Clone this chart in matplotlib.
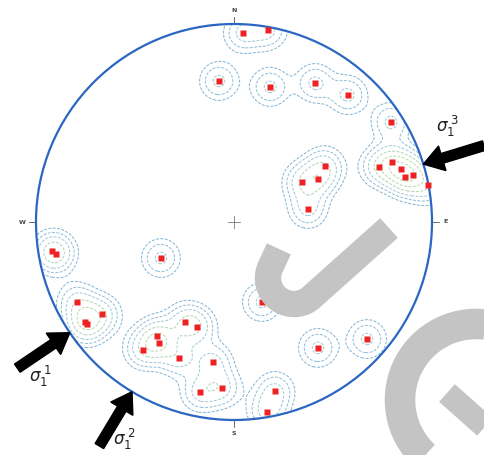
import numpy as np
import matplotlib.pyplot as plt
from matplotlib.patches import Circle, FancyArrow

# poles in net coordinates (unit primitive circle, x = east, y = north)
pole_x = [0.045, 0.172,
          -0.076, 0.182, 0.409, 0.576, 0.793,
          0.732, 0.798, 0.843, 0.864, 0.904, 0.980,
          0.460, 0.424, 0.343, 0.374,
          -0.919, -0.899, -0.369,
          -0.793, -0.667, -0.753, -0.742,
          0.141,
          -0.247, -0.187, -0.389, -0.379, -0.460, -0.278, -0.106, -0.172, -0.061,
          0.207, 0.167, 0.424, 0.672]
pole_y = [0.955, 0.970,
          0.712, 0.682, 0.702, 0.641, 0.505,
          0.278, 0.303, 0.268, 0.227, 0.237, 0.187,
          0.283, 0.217, 0.202, 0.066,
          -0.146, -0.162, -0.182,
          -0.404, -0.465, -0.505, -0.515,
          -0.404,
          -0.505, -0.530, -0.576, -0.611, -0.646, -0.687, -0.707, -0.859, -0.838,
          -0.854, -0.960, -0.636, -0.591]

# principal stress directions (azimuth, degrees clockwise from north)
sigma_labels = [r'$\sigma_1^{\;1}$', r'$\sigma_1^{\;2}$', r'$\sigma_1^{\;3}$']
sigma_az = [236, 211, 73]
label_offset = [(-0.15, -0.22), (-0.04, -0.24), (0.12, 0.19)]

compass = ['N', 'E', 'S', 'W']
compass_az = [0, 90, 180, 270]

R_PX = 198.0
fig = plt.figure(figsize=(4.85, 4.55), dpi=100)
ax = fig.add_axes([0, 0, 1, 1])
ax.set_xlim(-234 / R_PX, 251 / R_PX)
ax.set_ylim(-233 / R_PX, 222 / R_PX)
ax.axis('off')

# density contours (gaussian kernel on the net)
gx, gy = np.meshgrid(np.linspace(-1.05, 1.05, 420), np.linspace(-1.05, 1.05, 420))
px = np.array(pole_x)
py = np.array(pole_y)
s = 0.063
dens = np.zeros_like(gx)
for x0, y0 in zip(px, py):
    dens += np.exp(-((gx - x0) ** 2 + (gy - y0) ** 2) / (2 * s * s))

levels = [0.3, 0.55, 0.9, 1.4, 2.0, 2.7, 3.5]
cols = ['#7fb2d6', '#8cbcd8', '#9ec8d6', '#b0d4b4', '#b8d9a4', '#b8d9a4', '#b8d9a4']
clip = Circle((0, 0), 1.0, transform=ax.transData)
cs = ax.contour(gx, gy, dens, levels=levels, colors=cols, linewidths=0.7,
                linestyles=[(0, (3, 1.5))])
cs.set_clip_path(clip)

# primitive circle
ax.add_patch(Circle((0, 0), 1.0, fill=False, ec='#2a66c2', lw=1.6, zorder=4))

# centre cross
ax.plot([-0.03, 0.03], [0, 0], color='#777777', lw=0.6)
ax.plot([0, 0], [-0.03, 0.03], color='#777777', lw=0.6)

# compass ticks and letters
for lab, az in zip(compass, compass_az):
    a = np.radians(az)
    sx, sy = np.sin(a), np.cos(a)
    ax.plot([sx, 1.035 * sx], [sy, 1.035 * sy], color='#555555', lw=0.6)
    ax.text(1.07 * sx, 1.07 * sy, lab, fontsize=4.5, color='#444444',
            ha='center', va='center', fontweight='bold')

# poles
ax.plot(px, py, 's', color='#ee2222', ms=4.2, mec='none', zorder=5)

# stress arrows pointing into the net
for lab, az, off in zip(sigma_labels, sigma_az, label_offset):
    a = np.radians(az)
    sx, sy = np.sin(a), np.cos(a)
    L = 0.32
    ax.add_patch(FancyArrow(1.0 * sx + L * sx, 1.0 * sy + L * sy, -L * sx, -L * sy,
                            width=0.05, head_width=0.13, head_length=0.1,
                            length_includes_head=True, color='black', zorder=6))
    ax.text(sx + off[0], sy + off[1], lab, fontsize=12, ha='center', va='center',
            color='#222222')

# grey tilted "JG" logo overlay, drawn in pixel space
ov = fig.add_axes([0, 0, 1, 1])
ov.set_xlim(0, 485)
ov.set_ylim(455, 0)
ov.axis('off')
grey = '#c4c4c4'
cx, cy, r = 294, 278, 26
t = np.radians(np.linspace(45, 205, 60))
end = np.radians(205)
jx = np.concatenate([[389], cx + r * np.cos(t), [cx + r * np.cos(end) + 20 * -np.sin(end)]])
jy = np.concatenate([[228], cy + r * np.sin(t), [cy + r * np.sin(end) + 20 * np.cos(end)]])
ov.plot(jx, jy, color=grey, lw=19, solid_capstyle='butt', solid_joinstyle='round')
t = np.radians(np.linspace(-55, -280, 90))
ov.plot(476 + 76 * np.cos(t), 400 + 76 * np.sin(t), color=grey, lw=22,
        solid_capstyle='butt')
ov.plot([447, 492], [393, 433], color=grey, lw=17, solid_capstyle='butt')

fig.savefig('out.png', dpi=100)
